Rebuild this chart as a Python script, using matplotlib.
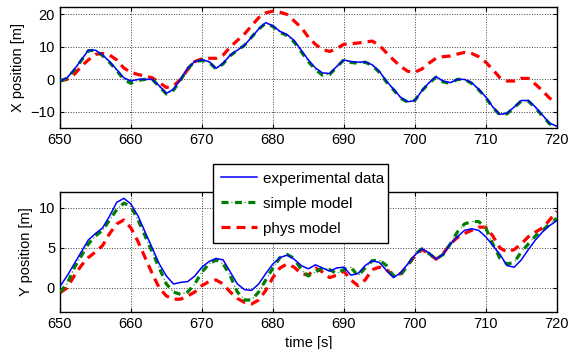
import numpy as np
import matplotlib
matplotlib.use('Agg')
import matplotlib.pyplot as plt

plt.rcParams['font.family'] = ['Liberation Sans', 'DejaVu Sans']
plt.rcParams['font.size'] = 10

# time axis (s), one reading per second
t = np.arange(650, 721)

# X position [m]
x_exp = [-0.5, 0.5, 3, 6, 9, 9, 7.5, 5.5, 3, 0.5,
         -0.5, 0, 0, 0, -2, -4.3, -3, 0, 3.5, 5.5,
         6, 5.5, 3.4, 5, 7.5, 9, 10.5, 13, 15.5, 17.5,
         16.5, 14.8, 13.8, 12, 9, 6, 3.5, 2, 1.8, 4,
         6, 5.5, 5.3, 5.4, 4.5, 2.5, -0.5, -3, -5.5, -6.9,
         -6.5, -3.5, -1, 0.8, -0.5, -1, 0, 0, -1, -3,
         -5.4, -8.5, -10.8, -10.4, -8.5, -6.5, -6.5, -8.5, -11, -13.5,
         -14.4]
x_simple = [-0.5, 0.3, 2.8, 5.8, 8.8, 9, 7.3, 5.2, 2.7, 0,
            -1.2, -0.3, 0, 0, -2.2, -4.5, -3.3, -0.2, 3.3, 5.5,
            5.8, 5.3, 3.2, 4.8, 7.3, 9, 10.5, 13, 15.5, 17.3,
            16.3, 14.5, 13.5, 11.5, 8.5, 5.5, 3, 1.3, 1.5, 3.8,
            6, 5.2, 5, 5.3, 4.3, 2.2, -0.8, -3.2, -5.8, -7,
            -6.5, -3.5, -1.2, 0.7, -0.8, -1.2, 0, 0, -1.2, -3.2,
            -5.6, -8.7, -11, -10.6, -8.7, -6.7, -6.7, -8.8, -11.3, -13.7,
            -14.5]
x_phys = [-0.5, 0, 1.5, 4, 6, 7.7, 8, 7.5, 6, 3.5,
          2.2, 1.5, 1, 0.5, -1, -2.5, -2, 0, 3, 5.5,
          6.3, 6.5, 6.5, 7.5, 10, 12, 14, 16.5, 19, 20.5,
          21, 20.7, 20, 18, 16, 13, 10.8, 9.2, 8.6, 9.5,
          10.8, 11, 11.2, 11.5, 11.8, 10.5, 8.2, 6, 4, 2.5,
          2.2, 3.2, 5, 6.5, 7, 7.2, 7.8, 8.3, 8, 7,
          5.3, 3, 0.5, -0.5, -0.5, 0.3, 0.3, -1.5, -3.5, -5.8,
          -7]

# Y position [m]
y_exp = [0.2, 1.5, 3, 4.5, 6, 6.8, 7.5, 9, 10.7, 11.2,
         10.5, 9, 7, 5, 3, 1.5, 0.5, 0.7, 0.8, 1.5,
         2.6, 3.3, 3.7, 3.5, 2, 0.5, -0.2, -0.3, 0.5, 1.8,
         3, 3.8, 4.1, 3.6, 2.8, 2.4, 2.9, 2.5, 2.1, 2.5,
         2.6, 1.6, 1.8, 2.8, 3.4, 3.2, 2.2, 1.3, 1.9, 3,
         4.1, 4.9, 4.4, 3.6, 4.2, 5.5, 6.4, 7.2, 7.4, 7.2,
         6.4, 5.3, 4.2, 2.8, 2.6, 3.5, 4.8, 6, 7, 7.8,
         8.4]
y_simple = [-0.5, 0.5, 2.5, 4, 5.5, 6.5, 7.2, 8.5, 9.8, 10.6,
            10.2, 8.5, 6.5, 4.5, 2.5, 0.5, -0.5, -0.8, -0.5, 0.5,
            2, 3, 3.5, 3, 1.5, -0.5, -1.5, -1.5, -0.5, 1,
            2.5, 3.8, 4.2, 3.7, 2.3, 1.5, 2, 2.5, 2.3, 1.8,
            2.3, 2.6, 1.5, 2.5, 3.4, 3.5, 2.8, 1.5, 1.6, 2.8,
            4.2, 4.9, 4.3, 3.6, 4.2, 5.5, 7, 8, 8.3, 8.3,
            7.5, 5.5, 3.7, 3, 3.2, 4.5, 5.5, 6.5, 7.2, 8,
            8.7]
y_phys = [-0.6, 0, 1.5, 2.8, 3.8, 4.5, 5.3, 6.8, 8, 8.5,
          7.5, 5.8, 3.8, 1.8, 0, -1, -1.4, -1.4, -1, -0.5,
          0.3, 0.8, 1, 0.5, -0.5, -1.3, -1.8, -2, -1.5, -0.3,
          1.3, 2.5, 3, 2.6, 1.8, 1.6, 2.5, 2, 1.3, 1.6,
          2.1, 1, 0.3, 1, 2.3, 2.6, 2.3, 1.5, 1.8, 2.8,
          4, 4.8, 4.3, 3.6, 4.3, 5.5, 6.3, 6.8, 7.2, 7.6,
          7.6, 6.5, 5, 4.5, 4.8, 5.5, 6.4, 7, 7.5, 8.5,
          9.6]

fig = plt.figure(figsize=(5.71, 3.49), dpi=100)
ax1 = fig.add_axes([0.105, 0.633, 0.870, 0.347])
ax2 = fig.add_axes([0.105, 0.106, 0.870, 0.344])

handles = None
for ax, e, s, p in [(ax1, x_exp, x_simple, x_phys), (ax2, y_exp, y_simple, y_phys)]:
    he, = ax.plot(t, e, color='#0000ff', lw=1.1, zorder=4)
    # dash-dot: thick dashes with a thin dot in the gap (matlab look)
    hs1, = ax.plot(t, s, color='#007f00', lw=2.3, ls=(0, (2.2, 2.0)), zorder=3)
    hs2, = ax.plot(t, s, color='#4caf4c', lw=0.8, ls=(3.5, (1.6, 10.5)), zorder=3)
    hp, = ax.plot(t, p, color='#ff0000', lw=2.3, ls=(0, (2.8, 1.9)), zorder=2)
    handles = [he, (hs1, hs2), hp]
    ax.set_xlim(650, 720)
    ax.set_xticks(range(650, 721, 10))
    ax.grid(True, ls=':', color='#404040', lw=0.7)
    ax.tick_params(direction='in', top=True, right=True, labelsize=10.5, length=3)
    for sp in ax.spines.values():
        sp.set_linewidth(1.0)

ax1.set_ylim(-15, 22.3)
ax1.set_yticks([-10, 0, 10, 20])
ax1.set_ylabel('X position [m]', fontsize=10.5)

ax2.set_ylim(-3, 12)
ax2.set_yticks([0, 5, 10])
ax2.set_ylabel('Y position [m]', fontsize=10.5)
ax2.set_xlabel('time [s]', fontsize=10.5, labelpad=4)

leg = ax2.legend(handles, ['experimental data', 'simple model', 'phys model'],
                 loc='upper left', bbox_to_anchor=(0.373, 0.309, 0.306, 0.221),
                 bbox_transform=fig.transFigure, mode='expand', fancybox=False,
                 edgecolor='black', framealpha=1, fontsize=11, handlelength=2.4,
                 handletextpad=0.4, borderaxespad=0, borderpad=0.5, labelspacing=0.72)
leg.get_frame().set_linewidth(1.0)
leg.set_zorder(10)

fig.savefig('out.png', dpi=100)
